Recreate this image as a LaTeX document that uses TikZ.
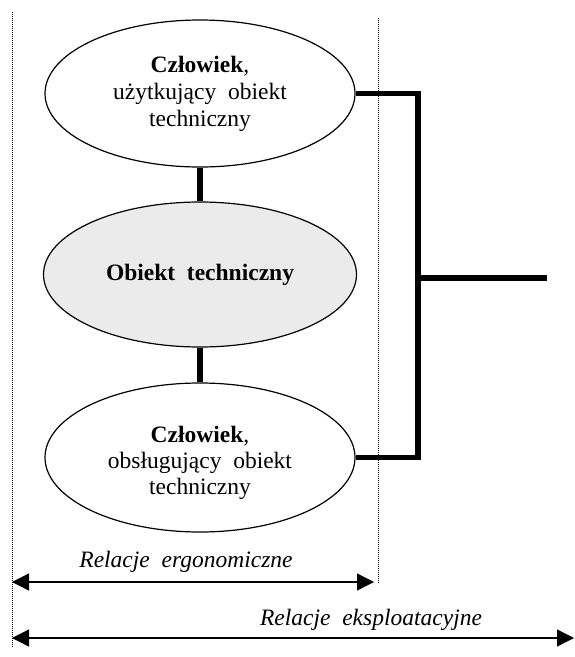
\documentclass[tikz,border=0pt]{standalone}
\usepackage{fontspec}
\setmainfont{Liberation Serif}
\usetikzlibrary{shapes.geometric,arrows.meta}
\definecolor{objfill}{gray}{0.92}
\begin{document}
\begin{tikzpicture}[x=1pt,y=-1pt,
  blob/.style={ellipse,draw,line width=1.2pt,inner sep=0pt,align=center,
    font=\fontsize{23.5}{27}\selectfont},
  words/.style={align=center,inner sep=0pt,font=\fontsize{23.5}{26}\selectfont},
  link/.style={line width=5.5pt},
  bound/.style={line width=0.8pt,dash pattern=on 1pt off 1pt},
  span/.style={line width=1.3pt,{Triangle[length=17pt,width=17pt]}-{Triangle[length=17pt,width=17pt]}},
  caption/.style={font=\fontsize{23.5}{27}\selectfont\itshape,anchor=base}]
\useasboundingbox (0,0) rectangle (575,657);
\newcommand{\gap}{\hskip0.5em}

% dotted boundaries of the two relation ranges
\coordinate (lt) at (12,12);
\coordinate (lb) at (12,648);
\coordinate (rt) at (378,18);
\coordinate (rb) at (378,583);
\draw[bound] (lt) -- (lb);
\draw[bound] (rt) -- (rb);

% the three ellipses
\node[blob,minimum width=310pt,minimum height=147pt] (user) at (200,93.5)
  {\textbf{Człowiek},\\użytkujący\gap obiekt\\techniczny};
\node[blob,fill=objfill,minimum width=313pt,minimum height=145pt] (obj) at (200,274.5)
  {\textbf{Obiekt\gap techniczny}};
\node[blob,minimum width=310pt,minimum height=149pt] (oper) at (200,457.5) {};
\node[words] (opertext) at (200,463)
  {\textbf{Człowiek},\\obsługujący\gap obiekt\\techniczny};

% links between the ellipses
\draw[link] (user.south) -- (obj.north);
\draw[link] (obj.south) -- (oper.north);

% bracket joining both people
\coordinate (bt) at (418,0 |- user.east);
\coordinate (bb) at (418,0 |- oper.east);
\coordinate (bm) at (418,278);
\coordinate (out) at (547,278);
\draw[link,line join=miter] (user.east) -- (user.east -| bt) -- (oper.east -| bb) -- (oper.east);
\draw[link] (bm) -- (out);

% relation ranges
\coordinate (e1) at (12,582);
\coordinate (e2) at (374,582);
\coordinate (x1) at (12,638);
\coordinate (x2) at (574,638);
\draw[span] (e1) -- (e2);
\draw[span] (x1) -- (x2);
\node[caption] (ergo) at (186,567) {Relacje\gap ergonomiczne};
\node[caption] (expl) at (371,625) {Relacje\gap eksploatacyjne};
\end{tikzpicture}
\end{document}
